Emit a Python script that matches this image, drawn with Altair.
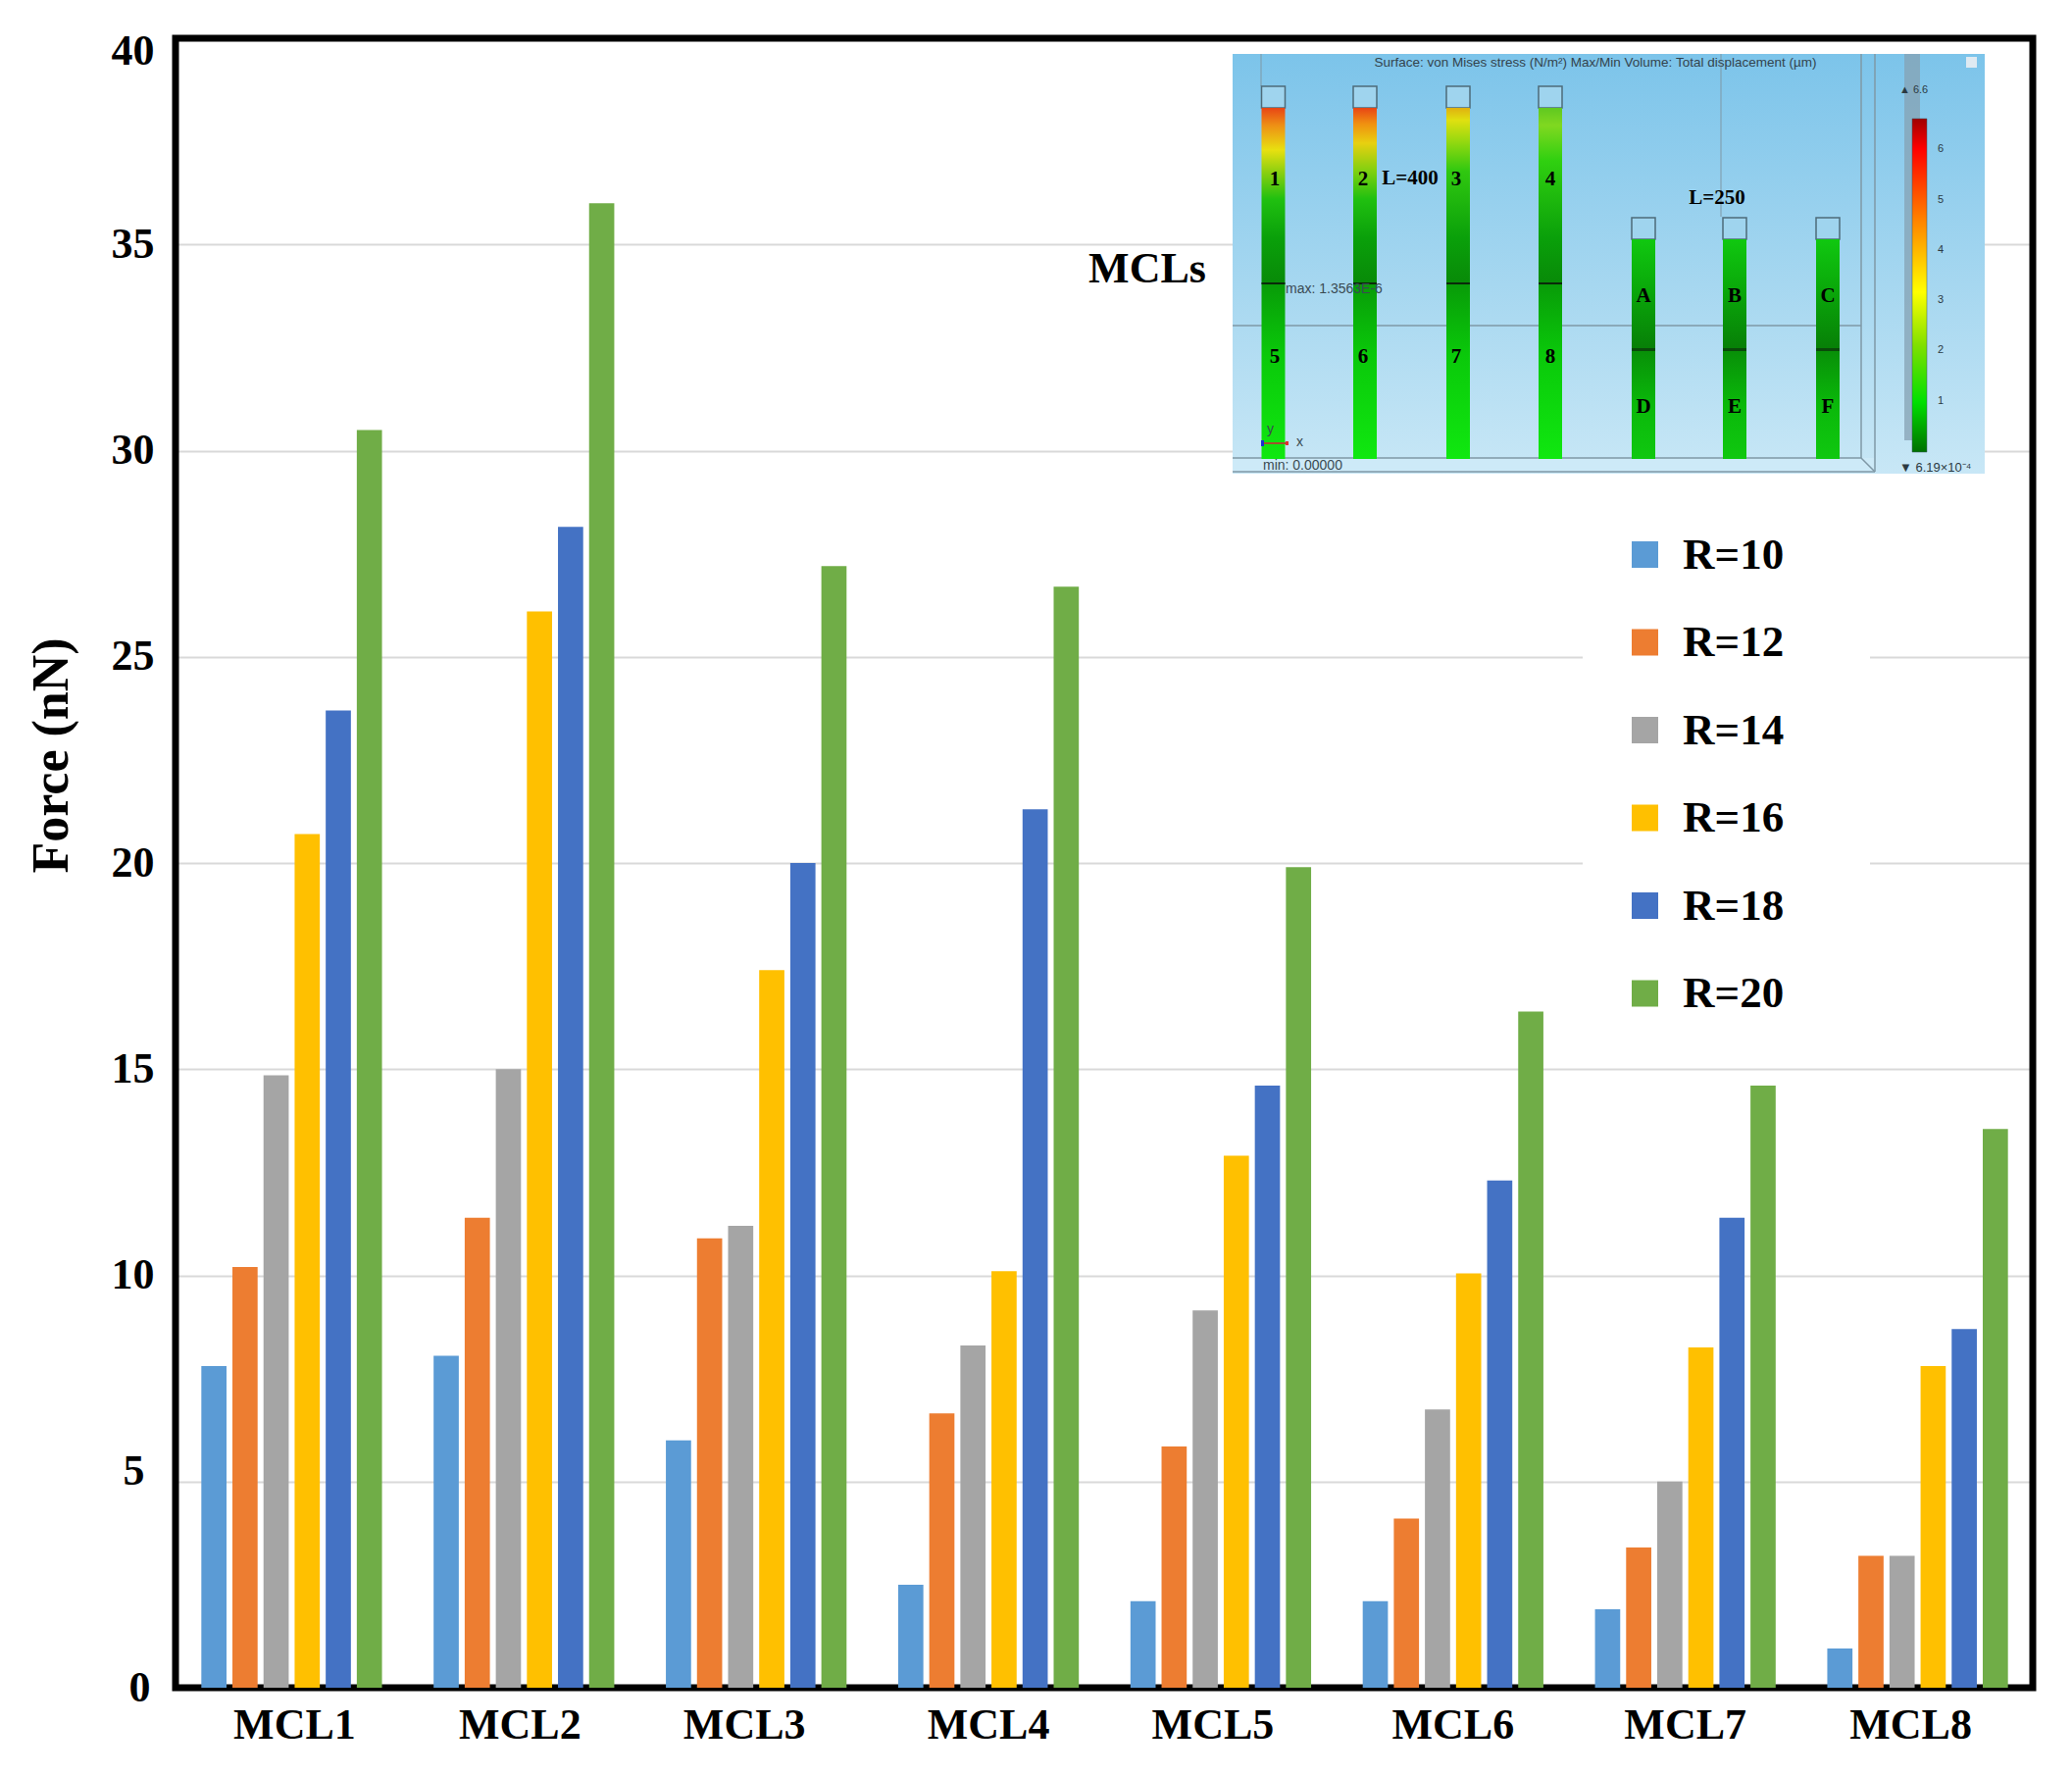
import altair as alt
import pandas as pd

SERIF = "Liberation Serif"
SANS = "Liberation Sans"

groups = ["MCL1", "MCL2", "MCL3", "MCL4", "MCL5", "MCL6", "MCL7", "MCL8"]
radii = ["R=10", "R=12", "R=14", "R=16", "R=18", "R=20"]
colors = ["#5b9bd5", "#ed7d31", "#a5a5a5", "#ffc000", "#4472c4", "#70ad47"]
r10 = [7.8, 8.05, 6.0, 2.5, 2.1, 2.1, 1.9, 0.95]
r12 = [10.2, 11.4, 10.9, 6.65, 5.85, 4.1, 3.4, 3.2]
r14 = [14.85, 15.0, 11.2, 8.3, 9.15, 6.75, 5.0, 3.2]
r16 = [20.7, 26.1, 17.4, 10.1, 12.9, 10.05, 8.25, 7.8]
r18 = [23.7, 28.15, 20.0, 21.3, 14.6, 12.3, 11.4, 8.7]
r20 = [30.5, 36.0, 27.2, 26.7, 19.9, 16.4, 14.6, 13.55]
series = [r10, r12, r14, r16, r18, r20]
y_ticks = [0, 5, 10, 15, 20, 25, 30, 35, 40]

W, H = 1894, 1682
rows = [{"g": g, "r": radii[i], "v": s[j], "o": i}
        for i, s in enumerate(series) for j, g in enumerate(groups)]
df = pd.DataFrame(rows)

bars = alt.Chart(df).mark_bar().encode(
    x=alt.X("g:N", sort=groups, title=None,
            scale=alt.Scale(range=[0, 1895], paddingInner=0, paddingOuter=0),
            axis=alt.Axis(domain=False, ticks=False, labelAngle=0, labelFont=SERIF, labelFontWeight="bold",
                          labelFontSize=44, labelColor="black", labelPadding=16, labelBaseline="top",
                          labelOffset=alt.expr("datum.value==='MCL1'?3:datum.value==='MCL2'?-4:datum.value==='MCL3'?-12:datum.value==='MCL5'?-8:datum.value==='MCL8'?-7:0"))),
    xOffset=alt.XOffset("o:O", scale=alt.Scale(paddingInner=0.19, paddingOuter=0.83)),
    y=alt.Y("v:Q", title="Force (nN)", scale=alt.Scale(domain=[0, 40], nice=False),
            axis=alt.Axis(values=y_ticks, domain=False, ticks=False, grid=True, gridColor="#d9d9d9", gridWidth=2,
                          labelFont=SERIF, labelFontWeight="bold", labelFontSize=44, labelColor="black",
                          labelPadding=alt.expr("datum.value===5?32:datum.value===0?26:22"), labelFlush=False,
                          labelOffset=alt.expr("datum.value===40?13:datum.value===5?-10:0"),
                          titleFont=SERIF, titleFontWeight="bold", titleFontSize=52, titleColor="black",
                          titleX=-100, titleY=731, titleAngle=270)),
    color=alt.Color("r:N", sort=radii, scale=alt.Scale(domain=radii, range=colors),
                    legend=alt.Legend(orient="none", legendX=1476, legendY=504, title=None, symbolType="square",
                                      symbolSize=729, symbolStrokeWidth=0, symbolOpacity=1, labelFont=SERIF, labelFontWeight="bold",
                                      labelFontSize=45, labelColor="black", labelOffset=16, rowPadding=43.5,
                                      padding=0, labelLimit=300)),
)

# Inset: simulation picture, in its own coordinate space (pixels of the picture)
IX0, IX1, IY0, IY1 = 1078, 1845, 16, 444
ix = alt.Scale(domain=[0, 767], range=[IX0, IX1], nice=False, zero=False)
iy = alt.Scale(domain=[0, 428], range=[IY0, IY1], nice=False, zero=False)


def grad(stops):
    return alt.LinearGradient(gradient="linear", x1=0, x2=0, y1=0, y2=1,
                              stops=[alt.GradientStop(offset=o, color=c) for o, c in stops])


def rect(x, x2, y, y2, **kw):
    return alt.Chart(pd.DataFrame([{"x": x, "x2": x2, "y": y, "y2": y2}])).mark_rect(**kw).encode(
        x=alt.X("x:Q", scale=ix, axis=None), x2="x2:Q",
        y=alt.Y("y:Q", scale=iy, axis=None), y2="y2:Q")


def rule(x, x2, y, y2, color="#7f98a6", width=1.5):
    return alt.Chart(pd.DataFrame([{"x": x, "x2": x2, "y": y, "y2": y2}])).mark_rule(
        color=color, strokeWidth=width).encode(
        x=alt.X("x:Q", scale=ix, axis=None), x2="x2:Q",
        y=alt.Y("y:Q", scale=iy, axis=None), y2="y2:Q")


def text(items, font=SERIF, size=17, weight="bold", color="black", align="center"):
    return alt.Chart(pd.DataFrame(items, columns=["x", "y", "t"])).mark_text(
        font=font, fontSize=size, fontWeight=weight, color=color, align=align, baseline="middle").encode(
        x=alt.X("x:Q", scale=ix, axis=None), y=alt.Y("y:Q", scale=iy, axis=None), text="t:N")


tall_x = [41.5, 135, 230, 324]
short_x = [419, 512, 607]
tall_low = [(0.5, "#088a08"), (0.505, "#089c08"), (0.70, "#0ac80a"), (1, "#10e810")]
tall_stops = [
    [(0, "#e84515"), (0.05, "#ee9015"), (0.12, "#e8e010"), (0.18, "#90d010"), (0.26, "#20c010"), (0.37, "#0aa00a")] + tall_low,
    [(0, "#e84515"), (0.045, "#f09010"), (0.10, "#e8d010"), (0.18, "#80d010"), (0.26, "#20c010"), (0.37, "#0aa00a")] + tall_low,
    [(0, "#e0b010"), (0.035, "#e0e010"), (0.10, "#90d810"), (0.18, "#30c810"), (0.37, "#0aa00a")] + tall_low,
    [(0, "#60c820"), (0.05, "#80d820"), (0.15, "#30d010"), (0.37, "#0aa00a")] + tall_low,
]
short_stops = [(0, "#10c810"), (0.23, "#0aa80a"), (0.5, "#077f07"), (0.51, "#089008"), (0.75, "#0ab80a"), (1, "#10c810")]
bar_stops = [(0, "#a00000"), (0.09, "#ff0000"), (0.3, "#ff8000"), (0.52, "#ffff00"), (0.68, "#80e000"),
             (0.85, "#00e000"), (1, "#007000")]

inset = [rect(0, 767, 0, 428, color=grad([(0, "#7cc4ea"), (0.55, "#a6d7f0"), (1, "#c8e7f6")]))]
inset += [rect(0, 655, 412, 426, color="#cdeaf8")]
inset += [rule(0, 641, 277, 277), rule(0, 641, 412, 412), rule(0, 655, 426, 426), rule(641, 641, 0, 412),
          rule(655, 655, 0, 426), rule(641, 655, 412, 426), rule(29, 29, 0, 33, width=1), rule(498, 498, 0, 166, width=1)]
inset += [rect(685, 701, 0, 394, color="#86a2b3", opacity=0.75)]
for cx, st in zip(tall_x, tall_stops):
    inset.append(rect(cx - 12, cx + 12, 33, 55, color="#9fd4ee", stroke="#4e6b7a", strokeWidth=1.5))
    inset.append(rect(cx - 12, cx + 12, 55, 413, color=grad(st)))
    inset.append(rect(cx - 12, cx + 12, 233, 235, color="#0a2a0a"))
for cx in short_x:
    inset.append(rect(cx - 12, cx + 12, 167, 189, color="#9fd4ee", stroke="#4e6b7a", strokeWidth=1.5))
    inset.append(rect(cx - 12, cx + 12, 189, 413, color=grad(short_stops)))
    inset.append(rect(cx - 12, cx + 12, 300, 303, color="#0a4a0a"))
inset.append(rect(693, 708, 66, 406, color=grad(bar_stops), stroke="#3f5a66", strokeWidth=0.5))
inset.append(rect(31, 54, 396, 398, color="#a0522d"))
inset.append(rect(29, 32, 394, 400, color="#1a2fd0"))
inset.append(rect(54, 57, 395, 399, color="#e03030"))
inset.append(rect(748, 759, 3, 14, color="#dfeaf2"))
inset.append(text([(370, 9, "Surface: von Mises stress (N/m²)  Max/Min Volume: Total displacement (µm)")],
                  font=SANS, size=13.5, weight="normal", color="#33434d"))
inset.append(text([(54, 240, "max: 1.3563E-6"), (31, 420, "min: 0.00000"), (35, 383, "y"), (65, 396, "x")],
                  font=SANS, size=14, weight="normal", color="#3a4a52", align="left"))
inset.append(text([(719, 97, "6"), (719, 149, "5"), (719, 200, "4"), (719, 251, "3"), (719, 302, "2"), (719, 354, "1"),
                   (680, 37, "▲ 6.6")],
                  font=SANS, size=11, weight="normal", color="#2c3a42", align="left"))
inset.append(text([(680, 422, "▼ 6.19×10⁻⁴")], font=SANS, size=13, weight="normal", color="#2c3a42", align="left"))
inset.append(text([(43, 128, "1"), (133, 128, "2"), (228, 128, "3"), (324, 128, "4"),
                   (43, 309, "5"), (133, 309, "6"), (228, 309, "7"), (324, 309, "8"),
                   (419, 247, "A"), (512, 247, "B"), (607, 247, "C"),
                   (419, 360, "D"), (512, 360, "E"), (607, 360, "F")], size=21))
inset.append(text([(181, 127, "L=400"), (494, 147, "L=250")], size=21))
inset.append(text([(-87, 220, "MCLs")], size=44))

# white box behind the legend, which breaks the gridlines there
white_box = rect(357, 650, 414, 983, color="white")

# thick black frame round the plot; the bars stand over its lower edge
frame = alt.Chart(pd.DataFrame({"a": [0]})).mark_rect(
    fillOpacity=0, stroke="black", strokeWidth=7
).encode(x=alt.value(0), x2=alt.value(W), y=alt.value(0), y2=alt.value(H))

chart = alt.layer(white_box, frame, bars, *inset).resolve_scale(
    x="independent", y="independent", color="independent", xOffset="independent"
).properties(
    width=W, height=H,
    autosize=alt.AutoSizeParams(type="none"),
    padding={"left": 171, "top": 31, "right": 28, "bottom": 78},
    background="white",
).configure_view(stroke=None)

chart.save("out.html", embed_options={"renderer": "svg", "actions": False})
